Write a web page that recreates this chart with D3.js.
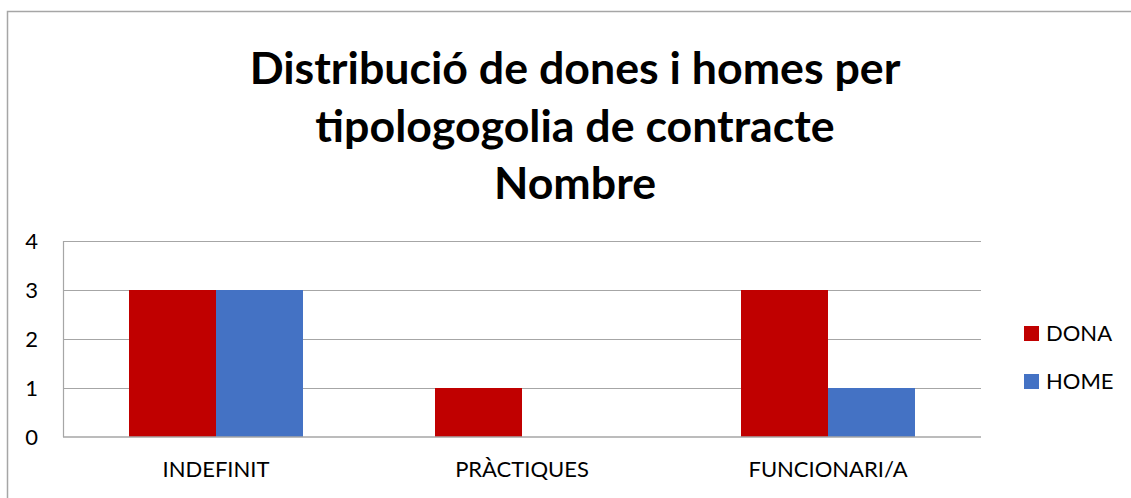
<!DOCTYPE html>
<html>
<head>
<meta charset="utf-8">
<script src="https://cdn.jsdelivr.net/npm/d3@7"></script>
<style>
  html, body { margin: 0; padding: 0; background: #fff; }
  svg { display: block; }
  text { font-family: Lato, "Open Sans", sans-serif; fill: #000; }
</style>
</head>
<body>
<div id="chart"></div>
<script>
(function(){
    // chart data
    const categories = ["INDEFINIT", "PRÀCTIQUES", "FUNCIONARI/A"];
    const seriesNames = ["DONA", "HOME"];
    const dona = [3, 1, 3];
    const home = [3, 0, 1];
    const yTicks = [0, 1, 2, 3, 4];
    const titleLines = ["Distribució de dones i homes per", "tipologogolia de contracte", "Nombre"];

    const colors = { DONA: "#C00000", HOME: "#4472C4" };

    const width = 1131;
    const height = 498;
    const plot = { left: 63, right: 981, top: 241, bottom: 437 };

    const svg = d3.select("#chart")
        .append("svg")
        .attr("width", width)
        .attr("height", height);

    // outer chart border
    svg.append("rect")
        .attr("x", 7.5).attr("y", 11.5)
        .attr("width", width + 10).attr("height", height)
        .attr("fill", "none")
        .attr("stroke", "#a6a6a6")
        .attr("stroke-width", 1.5);

    // title
    const title = svg.append("g").attr("class", "title");
    const titleY = [84, 142, 199];
    title.selectAll("text")
        .data(titleLines)
        .join("text")
        .attr("x", 575)
        .attr("y", (d, i) => titleY[i])
        .attr("text-anchor", "middle")
        .attr("font-weight", "bold")
        .attr("font-size", 44)
        .text(d => d);

    // fit title font size to the width of the first line
    const first = title.select("text").node();
    const w = first.getComputedTextLength();
    const fs = 44 * 651 / w;
    title.selectAll("text").attr("font-size", fs);

    // scales
    const x0 = d3.scaleBand()
        .domain(categories)
        .range([plot.left, plot.right])
        .paddingInner(0.4314)
        .paddingOuter(0.2157);
    const x1 = d3.scaleBand()
        .domain(seriesNames)
        .range([0, x0.bandwidth()]);
    const y = d3.scaleLinear()
        .domain([0, 4])
        .range([plot.bottom, plot.top]);

    // gridlines
    svg.append("g")
        .selectAll("line")
        .data(yTicks.filter(d => d > 0))
        .join("line")
        .attr("x1", plot.left).attr("x2", plot.right)
        .attr("y1", d => Math.round(y(d)) + 0.5)
        .attr("y2", d => Math.round(y(d)) + 0.5)
        .attr("stroke", "#a6a6a6")
        .attr("stroke-width", 1.2);

    // bars
    const rows = categories.map((c, i) => ({ cat: c, DONA: dona[i], HOME: home[i] }));
    svg.append("g")
        .selectAll("g")
        .data(rows)
        .join("g")
        .attr("transform", d => `translate(${x0(d.cat)},0)`)
        .selectAll("rect")
        .data(d => seriesNames.map(k => ({ key: k, value: d[k] })))
        .join("rect")
        .attr("x", d => x1(d.key))
        .attr("y", d => y(d.value))
        .attr("width", x1.bandwidth())
        .attr("height", d => y(0) - y(d.value))
        .attr("fill", d => colors[d.key]);

    // left axis line and baseline
    svg.append("line")
        .attr("x1", plot.left + 0.5).attr("x2", plot.left + 0.5)
        .attr("y1", plot.top).attr("y2", plot.bottom)
        .attr("stroke", "#a6a6a6").attr("stroke-width", 1.2);
    svg.append("line")
        .attr("x1", plot.left).attr("x2", plot.right)
        .attr("y1", plot.bottom).attr("y2", plot.bottom)
        .attr("stroke", "#a6a6a6").attr("stroke-width", 1.5);

    // y axis labels
    const yAxis = d3.axisLeft(y).tickValues(yTicks).tickFormat(d3.format("d")).tickSize(0).tickPadding(25);
    const gy = svg.append("g")
        .attr("transform", `translate(${plot.left},0)`)
        .call(yAxis);
    gy.select(".domain").remove();
    gy.selectAll("text")
        .attr("font-family", "Lato, sans-serif")
        .attr("font-size", 22)
        .attr("fill", "#000");

    // x axis labels
    const xAxis = d3.axisBottom(x0).tickSize(0).tickPadding(24);
    const gx = svg.append("g")
        .attr("transform", `translate(0,${plot.bottom})`)
        .call(xAxis);
    gx.select(".domain").remove();
    gx.selectAll("text")
        .attr("font-family", "Lato, sans-serif")
        .attr("font-size", 22)
        .attr("fill", "#000");

    // legend
    const legend = svg.append("g")
        .selectAll("g")
        .data(seriesNames)
        .join("g")
        .attr("transform", (d, i) => `translate(1024,${326 + i * 48})`);
    legend.append("rect")
        .attr("width", 15).attr("height", 15)
        .attr("fill", d => colors[d]);
    legend.append("text")
        .attr("x", 22).attr("y", 7.5)
        .attr("dy", "0.35em")
        .attr("font-size", 22)
        .text(d => d);
})();
</script>
</body>
</html>
